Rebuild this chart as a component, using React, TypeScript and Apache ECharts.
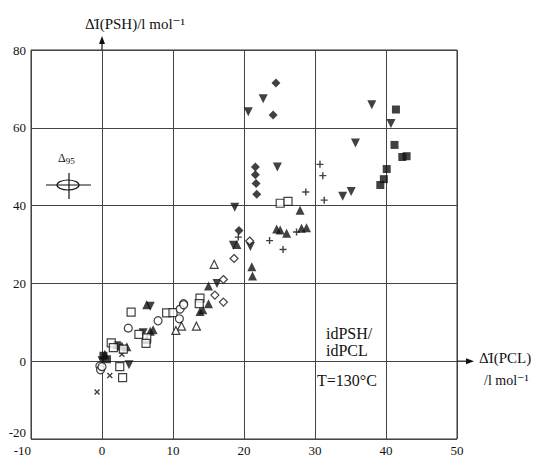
import React, { useEffect, useRef } from 'react';
import * as echarts from 'echarts';

const xTickLabels = [-10, 0, 10, 20, 30, 40, 50];
const yTickLabels = [-20, 0, 20, 40, 60, 80];

const filledDiamond = [[24.5, 71.5], [24.1, 63.3], [21.6, 49.9], [21.6, 47.9], [21.7, 45.7], [21.8, 42.9], [19.3, 33.6]];
const filledDown = [[38.0, 65.9], [40.7, 61.1], [35.7, 56.1], [35.1, 43.6], [33.9, 42.4], [20.6, 64.1], [22.7, 67.5], [24.7, 49.9], [18.7, 39.6], [18.5, 29.8], [20.9, 29.5], [16.2, 20.0], [6.8, 14.1], [5.8, 7.3], [3.8, -0.9], [0.0, 0.1]];
const filledSquare = [[41.4, 64.7], [41.2, 55.6], [42.3, 52.5], [42.9, 52.7], [40.1, 49.4], [39.7, 46.8], [39.2, 45.3], [0.2, 1.4], [0.7, 0.5], [2.1, 4.1]];
const plusPts = [[30.7, 50.6], [31.1, 47.7], [28.7, 43.5], [31.3, 41.4], [27.4, 33.2], [23.6, 31.0], [25.5, 28.7], [19.2, 31.9]];
const openSquare = [[25.1, 40.6], [26.2, 41.1], [13.8, 16.2], [13.7, 14.8], [9.1, 12.4], [10.0, 12.5], [4.1, 12.6], [5.2, 6.9], [6.3, 6.0], [6.2, 4.6], [1.3, 4.7], [1.6, 3.5], [3.0, 3.1], [2.5, -1.4], [2.9, -4.2]];
const filledUp = [[27.9, 38.8], [24.6, 34.0], [25.1, 33.7], [26.0, 32.9], [28.1, 34.2], [28.8, 34.3], [21.1, 24.3], [21.2, 21.9], [15.0, 19.3], [15.0, 14.8], [14.2, 13.2], [13.8, 12.8], [6.3, 14.5], [6.8, 7.7], [7.2, 8.1], [6.3, 5.6], [2.8, 3.9], [3.5, 3.7], [0.4, 1.8], [19.0, 30.0]];
const openDiamond = [[20.8, 30.9], [18.6, 26.4], [17.1, 21.0], [15.9, 17.0], [17.1, 15.2]];
const openCircle = [[11.5, 14.8], [11.0, 13.4], [11.5, 14.5], [10.9, 10.9], [7.9, 10.4], [3.7, 8.5], [-0.3, -1.2], [-0.2, -2.2], [0.0, -1.4]];
const openUp = [[15.8, 24.9], [11.2, 9.0], [10.4, 7.9], [13.3, 9.0]];
const crossPts = [[2.8, 1.8], [1.1, -3.7], [-0.7, -7.9]];

const PLUS = 'path://M-1,-5H1V-1H5V1H1V5H-1V1H-5V-1H-1Z';
const FONT = '"Liberation Serif", "DejaVu Serif", serif';

export default function App() {
  const ref = useRef<HTMLDivElement>(null);
  useEffect(() => {
    if (!ref.current) return;
    const chart = echarts.init(ref.current, null, { renderer: 'svg' });
    const mk = (data: number[][], symbol: string, size: number, filled: boolean, rotate = 0) => ({
      type: 'scatter',
      data,
      symbol,
      symbolSize: size,
      symbolRotate: rotate,
      itemStyle: filled
        ? { color: '#111', borderColor: '#111', borderWidth: 0 }
        : { color: '#fff', borderColor: '#111', borderWidth: 1.2 },
      z: filled ? 3 : 4,
    });
    chart.setOption({
      animation: false,
      backgroundColor: '#fff',
      grid: { left: 31, right: 86, top: 50, bottom: 18, show: true, borderColor: '#333', borderWidth: 1 },
      xAxis: {
        type: 'value', min: -10, max: 50, interval: 10,
        axisLine: { show: false }, axisTick: { show: false },
        splitLine: { show: true, lineStyle: { color: '#444', width: 1 } },
        axisLabel: {
          color: '#111', fontFamily: FONT, fontSize: 13, margin: 5,
          alignMinLabel: 'right',
          formatter: (v: number) => (xTickLabels.includes(v) ? String(v) : ''),
        },
      },
      yAxis: {
        type: 'value', min: -20, max: 80, interval: 20,
        axisLine: { show: false }, axisTick: { show: false },
        splitLine: { show: true, lineStyle: { color: '#444', width: 1 } },
        axisLabel: {
          color: '#111', fontFamily: FONT, fontSize: 13, margin: 5,
          verticalAlignMinLabel: 'bottom',
          formatter: (v: number) => (yTickLabels.includes(v) ? String(v) : ''),
        },
      },
      series: [
        mk(filledDiamond, 'diamond', 9, true),
        mk(filledDown, 'triangle', 9, true, 180),
        mk(filledSquare, 'rect', 8, true),
        mk(plusPts, PLUS, 7, true),
        mk(openSquare, 'rect', 8, false),
        mk(filledUp, 'triangle', 9, true),
        mk(openDiamond, 'diamond', 8, false),
        mk(openCircle, 'circle', 8, false),
        mk(openUp, 'triangle', 8, false),
        mk(crossPts, PLUS, 7, true, 45),
      ],
    });

    const o = chart.convertToPixel({ gridIndex: 0 }, [0, 0]) as number[];
    const tr = chart.convertToPixel({ gridIndex: 0 }, [50, 80]) as number[];
    const x0 = o[0], y0 = o[1], xr = tr[0], yt = tr[1];
    const txt = (text: string, x: number, y: number, size = 15, extra: any = {}) => ({
      type: 'text', x, y,
      style: { text, fill: '#111', font: `${size}px ${FONT}`, verticalAlign: 'middle', ...extra },
    });
    chart.setOption({
      graphic: [
        { type: 'line', shape: { x1: xr, y1: y0, x2: xr + 12, y2: y0 }, style: { stroke: '#111', lineWidth: 1.2 } },
        { type: 'polygon', shape: { points: [[xr + 17, y0], [xr + 9, y0 - 3], [xr + 9, y0 + 3]] }, style: { fill: '#111' } },
        { type: 'line', shape: { x1: x0, y1: yt, x2: x0, y2: yt - 8 }, style: { stroke: '#111', lineWidth: 1.2 } },
        { type: 'polygon', shape: { points: [[x0, yt - 14], [x0 - 3, yt - 6], [x0 + 3, yt - 6]] }, style: { fill: '#111' } },
        txt('Δ̇I(PSH)/l mol⁻¹', 85, 24, 15),
        txt('Δ̇I(PCL)', xr + 22, y0 - 3, 15),
        txt('/l mol⁻¹', xr + 27, y0 + 19, 14),
        txt('idPSH/', 326, 333, 16),
        txt('idPCL', 326, 350, 16),
        txt('T=130°C', 317, 380, 16),
        {
          type: 'text', x: 58, y: 158,
          style: {
            text: '{a|Δ}{b|95}', verticalAlign: 'middle',
            rich: {
              a: { fontFamily: FONT, fontSize: 12, fill: '#111' },
              b: { fontFamily: FONT, fontSize: 9, fill: '#111', padding: [6, 0, 0, 0] },
            },
          },
        },
        { type: 'ellipse', shape: { cx: 68, cy: 185, rx: 11, ry: 5 }, style: { fill: 'none', stroke: '#111', lineWidth: 1.2 } },
        { type: 'line', shape: { x1: 46, y1: 185, x2: 91, y2: 185 }, style: { stroke: '#111', lineWidth: 1.2 } },
        { type: 'line', shape: { x1: 69, y1: 173, x2: 69, y2: 199 }, style: { stroke: '#111', lineWidth: 1.2 } },
      ],
    });
    return () => chart.dispose();
  }, []);
  return <div ref={ref} style={{ width: 543, height: 457, position: 'absolute', left: 0, top: 0 }} />;
}
